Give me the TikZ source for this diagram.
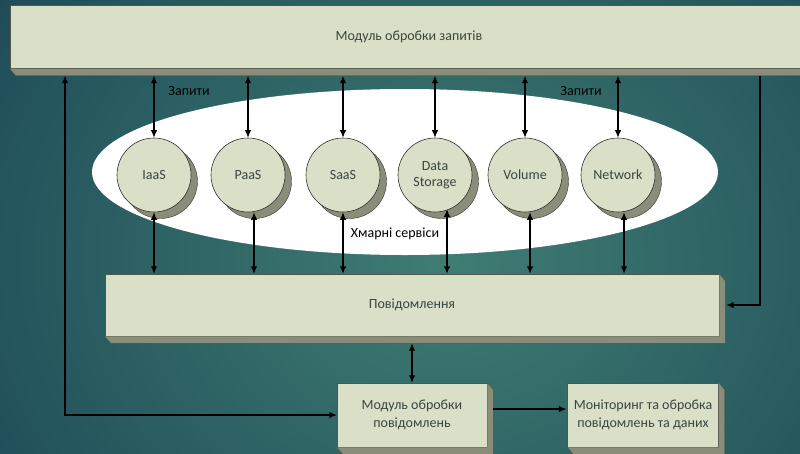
\documentclass[tikz,border=0pt]{standalone}
\usepackage{fontspec}
\setmainfont{Carlito}
\usetikzlibrary{arrows.meta,shapes.geometric,shadows,calc}
\definecolor{boxfill}{HTML}{DADFC7}
\definecolor{boxside}{HTML}{8A8D7A}
\definecolor{ink}{HTML}{37463F}
\definecolor{bgin}{HTML}{3F7D73}
\definecolor{bgout}{HTML}{1C4755}
% bevelled depth below and right of a panel
\newcommand\extrudepanel[1]{%
  \filldraw[fill=boxside,draw=boxside!60!black,line width=0.3pt]
    (#1.south west) -- ++(6,7) -- ($(#1.south east)+(6,7)$)
    -- ($(#1.north east)+(6,7)$) -- (#1.north east) -- (#1.south east) -- cycle;}
\begin{document}
\begin{tikzpicture}[x=1pt,y=-1pt,
  font=\fontsize{14}{16}\selectfont,
  panel/.style={rectangle, fill=boxfill, draw=boxside!60!black, line width=0.4pt,
    text=ink, align=center, inner sep=0pt, font=\fontsize{14}{17.5}\selectfont},
  svc/.style={circle, fill=boxfill, draw=boxside!35!black, line width=0.6pt,
    minimum size=74pt, inner sep=0pt, text=ink, align=center,
    drop shadow={shadow xshift=6.5pt, shadow yshift=-6.5pt, fill=boxside,
      draw=boxside!40!black, line width=0.4pt, opacity=1}},
  tip/.tip={Latex[length=7.5pt,width=6.5pt]},
  dbl/.style={tip-tip, line width=1.2pt, black},
  arr/.style={-tip, line width=1.2pt, black},
  lbl/.style={text=black, inner sep=1pt}
]
\useasboundingbox (0,0) rectangle (800,453);
\begin{scope}
  \clip (0,0) rectangle (800,453);
  \shade[inner color=bgin, outer color=bgout] (-150,-250) rectangle (1050,770);
\end{scope}

% request handling module
\node[panel, minimum width=798pt, minimum height=63pt] (req) at (409,37) {Модуль обробки запитів};
\extrudepanel{req}
\coordinate (reqb) at ($(req.south)+(0,7)$);

% cloud services
\node[ellipse, fill=white, minimum width=626pt, minimum height=166pt, inner sep=0pt] (cloud) at (405,172) {};
\node[svc] (iaas) at (154,175) {IaaS};
\node[svc] (paas) at (248,175) {PaaS};
\node[svc] (saas) at (343,175) {SaaS};
\node[svc] (ds)   at (435,175) {Data\\Storage};
\node[svc] (vol)  at (525,175) {Volume};
\node[svc] (net)  at (618,175) {Network};

\node[lbl] (q1) at (189,91) {Запити};
\node[lbl] (q2) at (581,91) {Запити};
\node[lbl] (cs) at (395,234) {Хмарні сервіси};

% messages
\node[panel, minimum width=614pt, minimum height=62pt] (msg) at (412,305) {Повідомлення};
\extrudepanel{msg}
\coordinate (msgb) at ($(msg.south)+(0,7)$);

\node[panel, minimum width=150pt, minimum height=64pt] (mpov) at (412,415) {Модуль обробки\\повідомлень};
\extrudepanel{mpov}
\node[panel, minimum width=151pt, minimum height=64pt] (mon) at (643,415) {Моніторинг та обробка\\повідомлень та даних};
\extrudepanel{mon}

% requests
\foreach \n in {iaas,paas,saas,ds,vol,net}
  \draw[dbl] (\n.north |- reqb) -- (\n.north);

% circles to messages
\draw[dbl] (iaas.south) -- (iaas.south |- msg.north);
\draw[dbl] ([xshift=6pt]paas.south) -- ([xshift=6pt]paas.south |- msg.north);
\draw[dbl] (saas.south) -- (saas.south |- msg.north);
\draw[dbl] ([xshift=12pt,yshift=3pt]ds.south) -- ([xshift=12pt]ds.south |- msg.north);
\draw[dbl] ([xshift=5pt]vol.south) -- ([xshift=5pt]vol.south |- msg.north);
\draw[dbl] ([xshift=6pt]net.south) -- ([xshift=6pt]net.south |- msg.north);

\draw[dbl] (mpov.north |- msgb) -- (mpov.north);

% side links
\coordinate (lft) at (65,0);
\coordinate (rgt) at (760,0);
\draw[dbl] (lft |- reqb) |- (mpov.west);
\draw[arr] (rgt |- reqb) |- ($(msg.east)+(7,0)$);
\draw[arr] ($(mpov.east)+(6,-6)$) -- ($(mon.west)+(-1,-6)$);
\end{tikzpicture}
\end{document}
